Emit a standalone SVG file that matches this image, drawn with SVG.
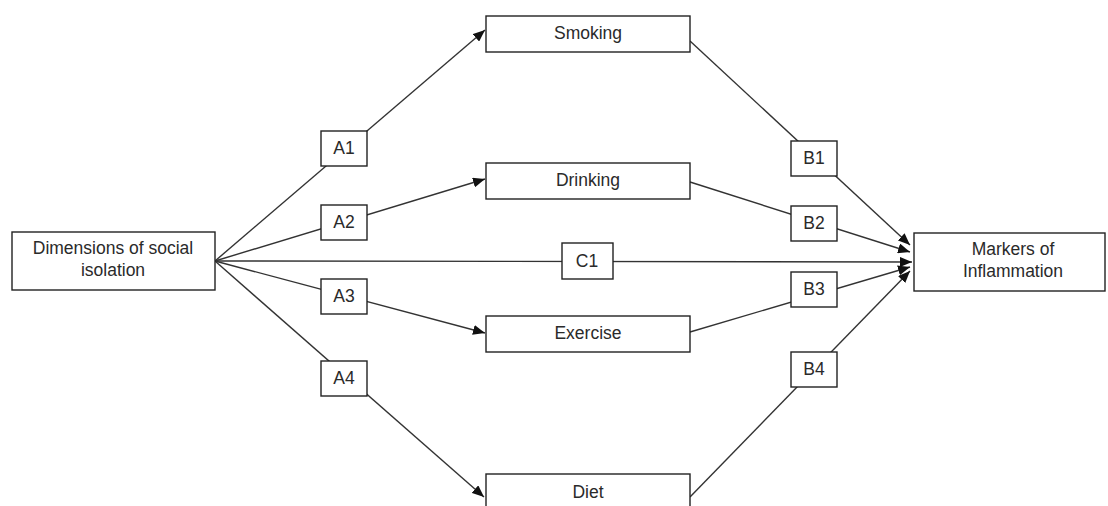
<svg xmlns="http://www.w3.org/2000/svg" width="1108" height="506" viewBox="0 0 1108 506">
<style>
.box{fill:#fff;stroke:#222;stroke-width:1.4}
.t{font-family:"Liberation Sans",Arial,sans-serif;font-size:17.5px;fill:#2a2a2a;text-anchor:middle}
.ln{stroke:#333;stroke-width:1.4;fill:none}
.ar{marker-end:url(#ah)}
</style>
<defs>
<marker id="ah" viewBox="0 0 12 10" refX="12" refY="5" markerWidth="12" markerHeight="10" markerUnits="userSpaceOnUse" orient="auto">
<path d="M0,0 L12,5 L0,10 Z" fill="#111"/>
</marker>
</defs>
<rect width="1108" height="506" fill="#fff"/>
<g id="connectors">
<line class="ln ar" x1="215" y1="261" x2="485" y2="30"/>
<line class="ln ar" x1="215" y1="261" x2="485" y2="179"/>
<line class="ln ar" x1="215" y1="261" x2="485" y2="333"/>
<line class="ln ar" x1="215" y1="261" x2="484" y2="497"/>
<line class="ln ar" x1="215" y1="261" x2="912" y2="262"/>
<line class="ln ar" x1="690" y1="41" x2="910" y2="245"/>
<line class="ln ar" x1="690" y1="182" x2="910" y2="252"/>
<line class="ln ar" x1="690" y1="332" x2="910" y2="267"/>
<line class="ln ar" x1="690" y1="497" x2="910" y2="271"/>
</g>
<g id="isolation">
<rect class="box" x="12" y="232" width="203" height="58"/>
<text class="t" x="113" y="254">Dimensions of social</text>
<text class="t" x="113" y="276">isolation</text>
</g>
<g id="markers">
<rect class="box" x="914" y="233" width="191" height="58"/>
<text class="t" x="1013" y="255">Markers of</text>
<text class="t" x="1013" y="277">Inflammation</text>
</g>
<g id="smoking">
<rect class="box" x="486" y="16" width="204" height="36"/>
<text class="t" x="588" y="39">Smoking</text>
</g>
<g id="drinking">
<rect class="box" x="486" y="163" width="204" height="36"/>
<text class="t" x="588" y="186">Drinking</text>
</g>
<g id="exercise">
<rect class="box" x="486" y="316" width="204" height="36"/>
<text class="t" x="588" y="339">Exercise</text>
</g>
<g id="diet">
<rect class="box" x="486" y="474" width="204" height="36"/>
<text class="t" x="588" y="498">Diet</text>
</g>
<g id="A1"><rect class="box" x="321" y="131" width="46" height="35"/><text class="t" x="344" y="154">A1</text></g>
<g id="A2"><rect class="box" x="321" y="205" width="46" height="35"/><text class="t" x="344" y="228">A2</text></g>
<g id="A3"><rect class="box" x="321" y="279" width="46" height="35"/><text class="t" x="344" y="302">A3</text></g>
<g id="A4"><rect class="box" x="321" y="361" width="46" height="35"/><text class="t" x="344" y="384">A4</text></g>
<g id="B1"><rect class="box" x="791" y="141" width="46" height="35"/><text class="t" x="814" y="164">B1</text></g>
<g id="B2"><rect class="box" x="791" y="206" width="46" height="35"/><text class="t" x="814" y="229">B2</text></g>
<g id="B3"><rect class="box" x="791" y="272" width="46" height="35"/><text class="t" x="814" y="295">B3</text></g>
<g id="B4"><rect class="box" x="791" y="352" width="46" height="35"/><text class="t" x="814" y="375">B4</text></g>
<g id="C1"><rect class="box" x="562" y="243" width="51" height="36"/><text class="t" x="587" y="267">C1</text></g>
</svg>
